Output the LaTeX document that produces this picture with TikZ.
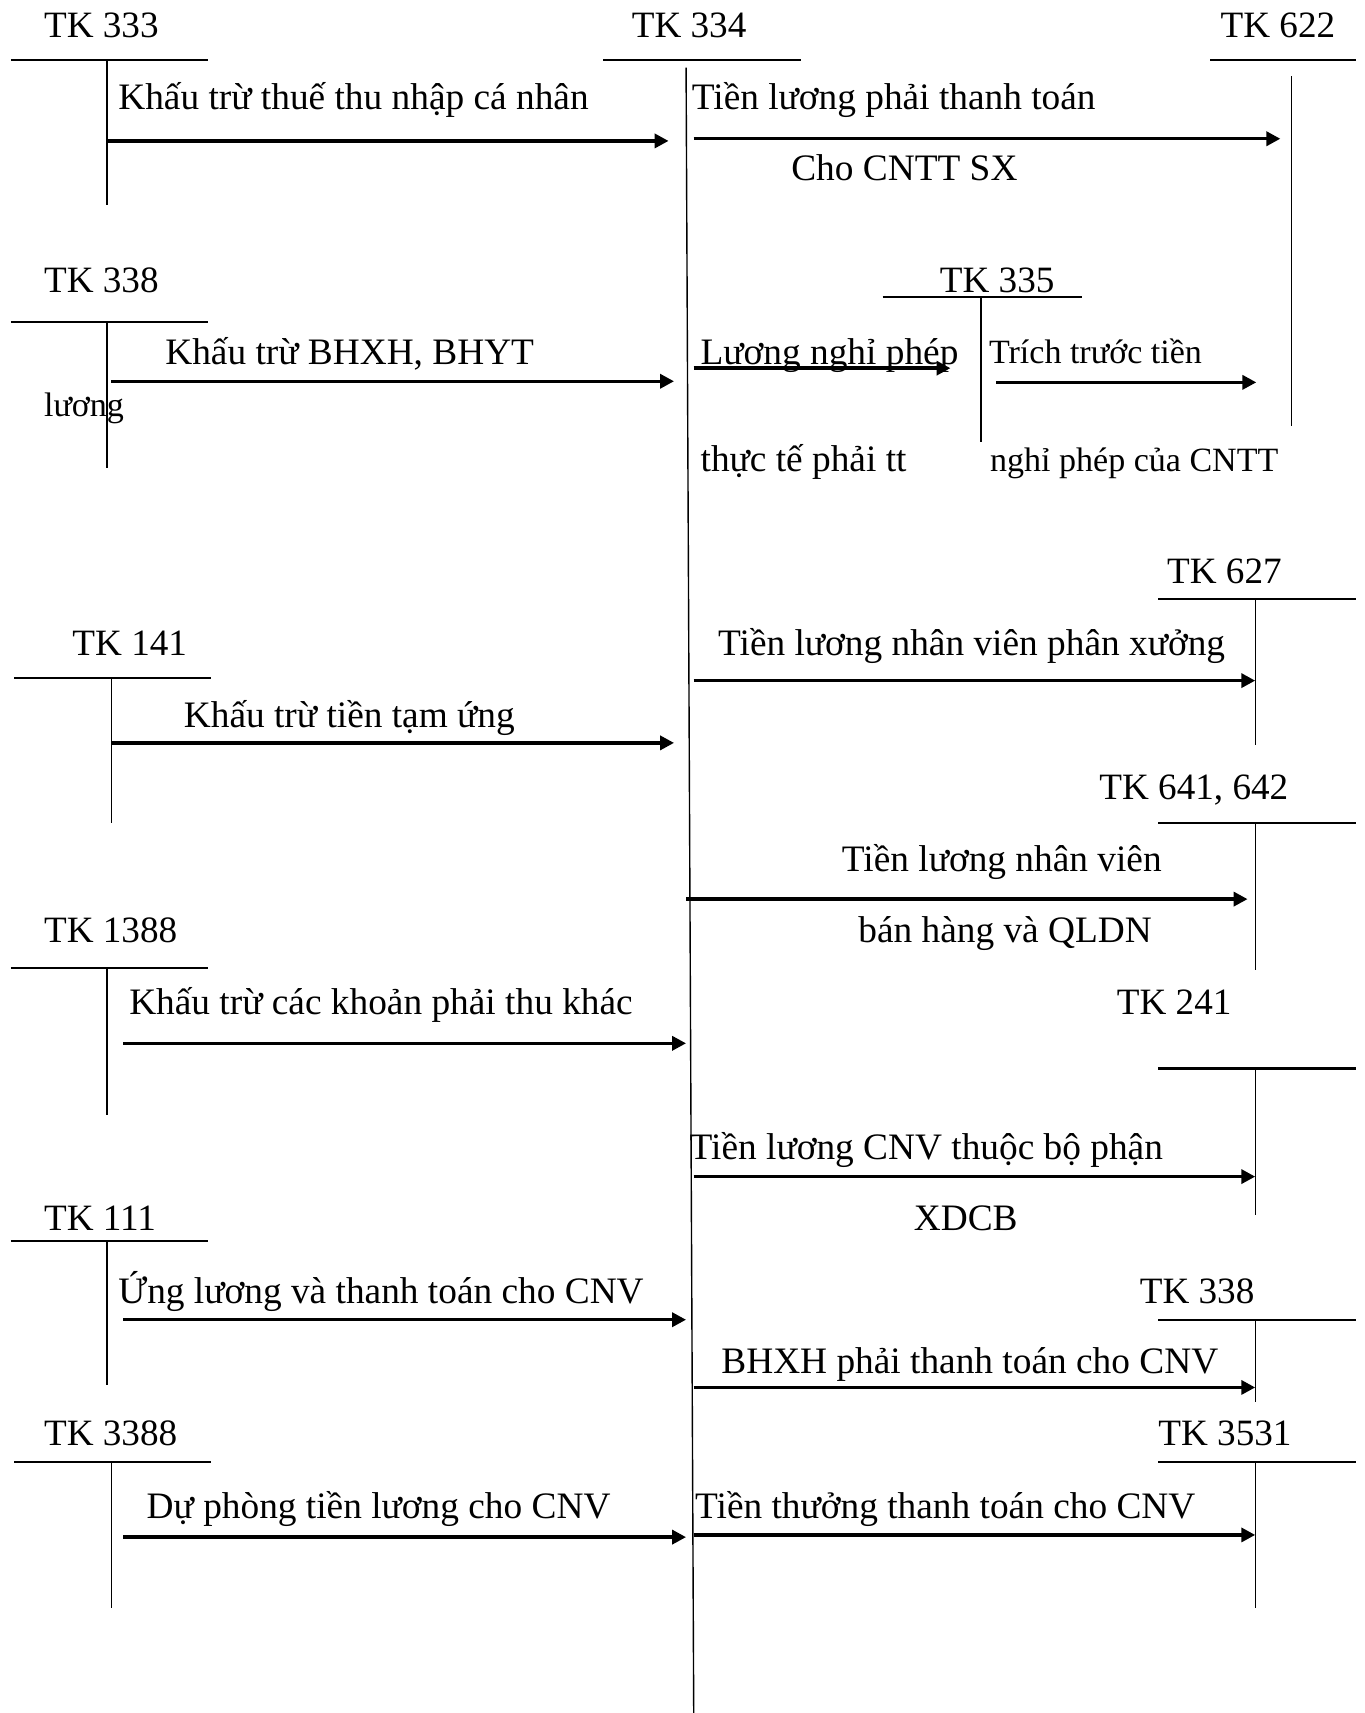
\documentclass[tikz,border=0pt]{standalone}
\usepackage{fontspec}
\setmainfont{Liberation Serif}
\usetikzlibrary{arrows.meta}
\tikzset{>={Triangle[length=8pt,width=8pt]}}

\begin{document}
\begin{tikzpicture}[x=0.022cm,y=-0.022cm,
  tk/.style={inner sep=0pt,anchor=base west,font=\fontsize{21.3}{25}\selectfont},
  txt/.style={inner sep=0pt,anchor=base west,font=\fontsize{21.4}{25}\selectfont},
  txts/.style={inner sep=0pt,anchor=base west,font=\fontsize{19.5}{23}\selectfont},
  bar/.style={line width=1.2pt},
  stem/.style={line width=0.8pt},
  flow/.style={->,line width=2pt}]
  \useasboundingbox (0,0) rectangle (1249,1568);

  % 账户 T 形
  \coordinate (A333L) at (10,55);   \coordinate (A333R) at (190,55);
  \coordinate (A333T) at (98,55);   \coordinate (A333B) at (98,188);
  \coordinate (A338L) at (10,295);  \coordinate (A338R) at (190,295);
  \coordinate (A338T) at (98,295);  \coordinate (A338B) at (98,428);
  \coordinate (A141L) at (13,621);  \coordinate (A141R) at (193,621);
  \coordinate (A141T) at (102,621); \coordinate (A141B) at (102,753);
  \coordinate (A1388L) at (10,886); \coordinate (A1388R) at (190,886);
  \coordinate (A1388T) at (98,886); \coordinate (A1388B) at (98,1021);
  \coordinate (A111L) at (10,1136); \coordinate (A111R) at (190,1136);
  \coordinate (A111T) at (98,1136); \coordinate (A111B) at (98,1268);
  \coordinate (A3388L) at (13,1338); \coordinate (A3388R) at (193,1338);
  \coordinate (A3388T) at (102,1338); \coordinate (A3388B) at (102,1472);
  \coordinate (A334L) at (552,55);  \coordinate (A334R) at (733,55);
  \coordinate (A334T) at (628,62);  \coordinate (A334B) at (635,1568);
  \coordinate (A622L) at (1108,55); \coordinate (A622R) at (1241,55);
  \coordinate (A622T) at (1182,70); \coordinate (A622B) at (1182,390);
  \coordinate (A335L) at (808,272); \coordinate (A335R) at (990,272);
  \coordinate (A335T) at (898,272); \coordinate (A335B) at (898,405);
  \coordinate (A627L) at (1060,548); \coordinate (A627R) at (1241,548);
  \coordinate (A627T) at (1149,548); \coordinate (A627B) at (1149,682);
  \coordinate (A641L) at (1060,753); \coordinate (A641R) at (1241,753);
  \coordinate (A641T) at (1149,753); \coordinate (A641B) at (1149,888);
  \coordinate (A241L) at (1060,978); \coordinate (A241R) at (1241,978);
  \coordinate (A241T) at (1149,978); \coordinate (A241B) at (1149,1112);
  \coordinate (B338L) at (1060,1208); \coordinate (B338R) at (1241,1208);
  \coordinate (B338T) at (1149,1208); \coordinate (B338B) at (1149,1283);
  \coordinate (A3531L) at (1060,1338); \coordinate (A3531R) at (1241,1338);
  \coordinate (A3531T) at (1149,1338); \coordinate (A3531B) at (1149,1472);

  \foreach \a in {A333,A338,A141,A1388,A111,A3388,A334,A622,A335,A627,A641,A241,B338,A3531}{
    \draw[bar] (\a L) -- (\a R);
    \draw[stem] (\a T) -- (\a B);
  }

  % 账户名称
  \node[tk] (n333) at (40,34) {TK 333};
  \node[tk] (n334) at (578,34) {TK 334};
  \node[tk] (n622) at (1117,34) {TK 622};
  \node[tk] (n338) at (40,268) {TK 338};
  \node[tk] (n335) at (860,268) {TK 335};
  \node[tk] (n627) at (1068,534) {TK 627};
  \node[tk] (n141) at (66,600) {TK 141};
  \node[tk] (n641) at (1006,732) {TK 641, 642};
  \node[tk] (n1388) at (40,863) {TK 1388};
  \node[tk] (n241) at (1022,929) {TK 241};
  \node[tk] (n111) at (40,1126) {TK 111};
  \node[tk] (m338) at (1043,1193) {TK 338};
  \node[tk] (n3388) at (40,1323) {TK 3388};
  \node[tk] (n3531) at (1060,1323) {TK 3531};

  % 箭头端点
  \coordinate (F1s) at (98,129);   \coordinate (F1e) at (612,129);
  \coordinate (F2s) at (635,127);  \coordinate (F2e) at (1172,127);
  \coordinate (F3s) at (102,349);  \coordinate (F3e) at (617,349);
  \coordinate (F4s) at (635,337);  \coordinate (F4e) at (870,337);
  \coordinate (F5s) at (912,350);  \coordinate (F5e) at (1150,350);
  \coordinate (F6s) at (635,623);  \coordinate (F6e) at (1149,623);
  \coordinate (F7s) at (102,680);  \coordinate (F7e) at (617,680);
  \coordinate (F8s) at (628,823);  \coordinate (F8e) at (1142,823);
  \coordinate (F9s) at (113,955);  \coordinate (F9e) at (628,955);
  \coordinate (F10s) at (635,1077); \coordinate (F10e) at (1149,1077);
  \coordinate (F11s) at (113,1208); \coordinate (F11e) at (628,1208);
  \coordinate (F12s) at (635,1270); \coordinate (F12e) at (1149,1270);
  \coordinate (F13s) at (113,1407); \coordinate (F13e) at (628,1407);
  \coordinate (F14s) at (635,1405); \coordinate (F14e) at (1149,1405);

  \foreach \f in {F1,F2,F3,F4,F5,F6,F7,F8,F9,F10,F11,F12,F13,F14}{
    \draw[flow] (\f s) -- (\f e);
  }

  % 文本标签
  \node[txt] (t1) at (108,100) {Khấu trừ thuế thu nhập cá nhân};
  \node[txt] (t2) at (633,100) {Tiền lương phải thanh toán};
  \node[txt] (t2b) at (724,165) {Cho CNTT SX};
  \node[txt] (t3) at (151,334) {Khấu trừ BHXH, BHYT};
  \node[txts] (t3b) at (40,381) {lương};
  \node[txt] (t4) at (641,334) {Lương nghỉ phép};
  \node[txt] (t4b) at (641,432) {thực tế phải tt};
  \node[txts] (t5) at (905,333) {Trích trước tiền};
  \node[txts] (t5b) at (906,432) {nghỉ phép của CNTT};
  \node[txt] (t6) at (657,600) {Tiền lương nhân viên phân xưởng};
  \node[txt] (t7) at (168,666) {Khấu trừ tiền tạm ứng};
  \node[txt,anchor=base] (t8) at (917,798) {Tiền lương nhân viên};
  \node[txt,anchor=base] (t8b) at (920,863) {bán hàng và QLDN};
  \node[txt] (t9) at (118,929) {Khấu trừ các khoản phải thu khác};
  \node[txt] (t10) at (631,1061) {Tiền lương CNV thuộc bộ phận};
  \node[txt,anchor=base] (t10b) at (884,1126) {XDCB};
  \node[txt] (t11) at (108,1193) {Ứng lương và thanh toán cho CNV};
  \node[txt] (t12) at (660,1257) {BHXH phải thanh toán cho CNV};
  \node[txt] (t13) at (134,1390) {Dự phòng tiền lương cho CNV};
  \node[txt] (t14) at (636,1390) {Tiền thưởng thanh toán cho CNV};
\end{tikzpicture}
\end{document}
